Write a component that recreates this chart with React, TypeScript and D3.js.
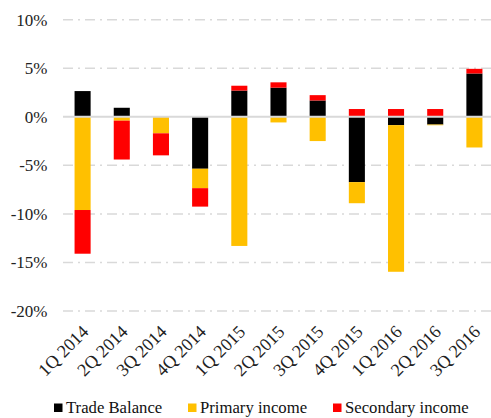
import { useEffect, useRef } from 'react';
import * as d3 from 'd3';

const quarters = [
  '1Q 2014', '2Q 2014', '3Q 2014', '4Q 2014',
  '1Q 2015', '2Q 2015', '3Q 2015', '4Q 2015',
  '1Q 2016', '2Q 2016', '3Q 2016',
];
const tradeBalance = [2.65, 0.93, 0, -5.35, 2.7, 3.0, 1.68, -6.73, -0.86, -0.8, 4.46];
const primaryIncome = [-9.6, -0.4, -1.7, -2.0, -13.3, -0.58, -2.5, -2.17, -15.1, -0.07, -3.16];
const secondaryIncome = [-4.5, -4.0, -2.27, -1.9, 0.5, 0.55, 0.55, 0.8, 0.8, 0.8, 0.48];
const seriesNames = ['Trade Balance', 'Primary income', 'Secondary income'];
const seriesColors = ['#000000', '#FFC000', '#FF0000'];
const yTicks = [10, 5, 0, -5, -10, -15, -20];

export default function App() {
  const svgRef = useRef<SVGSVGElement>(null);

  useEffect(() => {
    const svg = d3.select(svgRef.current);
    svg.selectAll('*').remove();

    const font = "'Liberation Serif', serif";

    const x = d3.scaleBand().domain(quarters).range([63, 494]).paddingInner(0.59).paddingOuter(0.295);
    const y = d3.scaleLinear().domain([-20, 10]).range([311, 19.7]);

    // grid
    svg
      .append('g')
      .selectAll('line')
      .data(yTicks.filter((t) => t !== 0))
      .join('line')
      .attr('x1', 63)
      .attr('x2', 491)
      .attr('y1', (d) => y(d))
      .attr('y2', (d) => y(d))
      .attr('stroke', '#d9d9d9')
      .attr('stroke-width', 1.5)
      .attr('stroke-dasharray', '10,5,2,5');

    // y labels
    svg
      .append('g')
      .selectAll('text')
      .data(yTicks)
      .join('text')
      .attr('x', 47.5)
      .attr('y', (d) => y(d))
      .attr('dy', '0.35em')
      .attr('text-anchor', 'end')
      .attr('font-family', font)
      .attr('font-size', 17)
      .attr('fill', '#222')
      .text((d) => `${d}%`);

    // stacked bars
    const rows = quarters.map((q, i) => ({
      q,
      'Trade Balance': tradeBalance[i],
      'Primary income': primaryIncome[i],
      'Secondary income': secondaryIncome[i],
    }));
    const stacked = d3.stack<any>().keys(seriesNames).offset(d3.stackOffsetDiverging)(rows);

    svg
      .append('g')
      .selectAll('g')
      .data(stacked)
      .join('g')
      .attr('fill', (_, i) => seriesColors[i])
      .selectAll('rect')
      .data((s) => s)
      .join('rect')
      .attr('x', (d) => x(d.data.q)!)
      .attr('width', x.bandwidth())
      .attr('y', (d) => y(Math.max(d[0], d[1])))
      .attr('height', (d) => Math.abs(y(d[0]) - y(d[1])));

    // zero line
    svg
      .append('line')
      .attr('x1', 63)
      .attr('x2', 491)
      .attr('y1', y(0))
      .attr('y2', y(0))
      .attr('stroke', '#d9d9d9')
      .attr('stroke-width', 2);

    // x labels
    svg
      .append('g')
      .selectAll('text')
      .data(quarters)
      .join('text')
      .attr('transform', (d) => `translate(${x(d)! + x.bandwidth() / 2 + 7},${333}) rotate(-45)`)
      .attr('text-anchor', 'end')
      .attr('font-family', font)
      .attr('font-size', 18)
      .attr('fill', '#222')
      .text((d) => d);

    // legend
    const legendX = [54, 188, 333];
    const legend = svg
      .append('g')
      .selectAll('g')
      .data(seriesNames)
      .join('g')
      .attr('transform', (_, i) => `translate(${legendX[i]},403.5)`);
    legend
      .append('rect')
      .attr('width', 8.5)
      .attr('height', 8.5)
      .attr('fill', (_, i) => seriesColors[i]);
    legend
      .append('text')
      .attr('x', 12)
      .attr('y', 9.5)
      .attr('font-family', font)
      .attr('font-size', 16.7)
      .attr('fill', '#111')
      .text((d) => d);
  }, []);

  return (
    <svg
      ref={svgRef}
      width={491}
      height={418}
      style={{ position: 'absolute', left: 0, top: 0 }}
    />
  );
}
